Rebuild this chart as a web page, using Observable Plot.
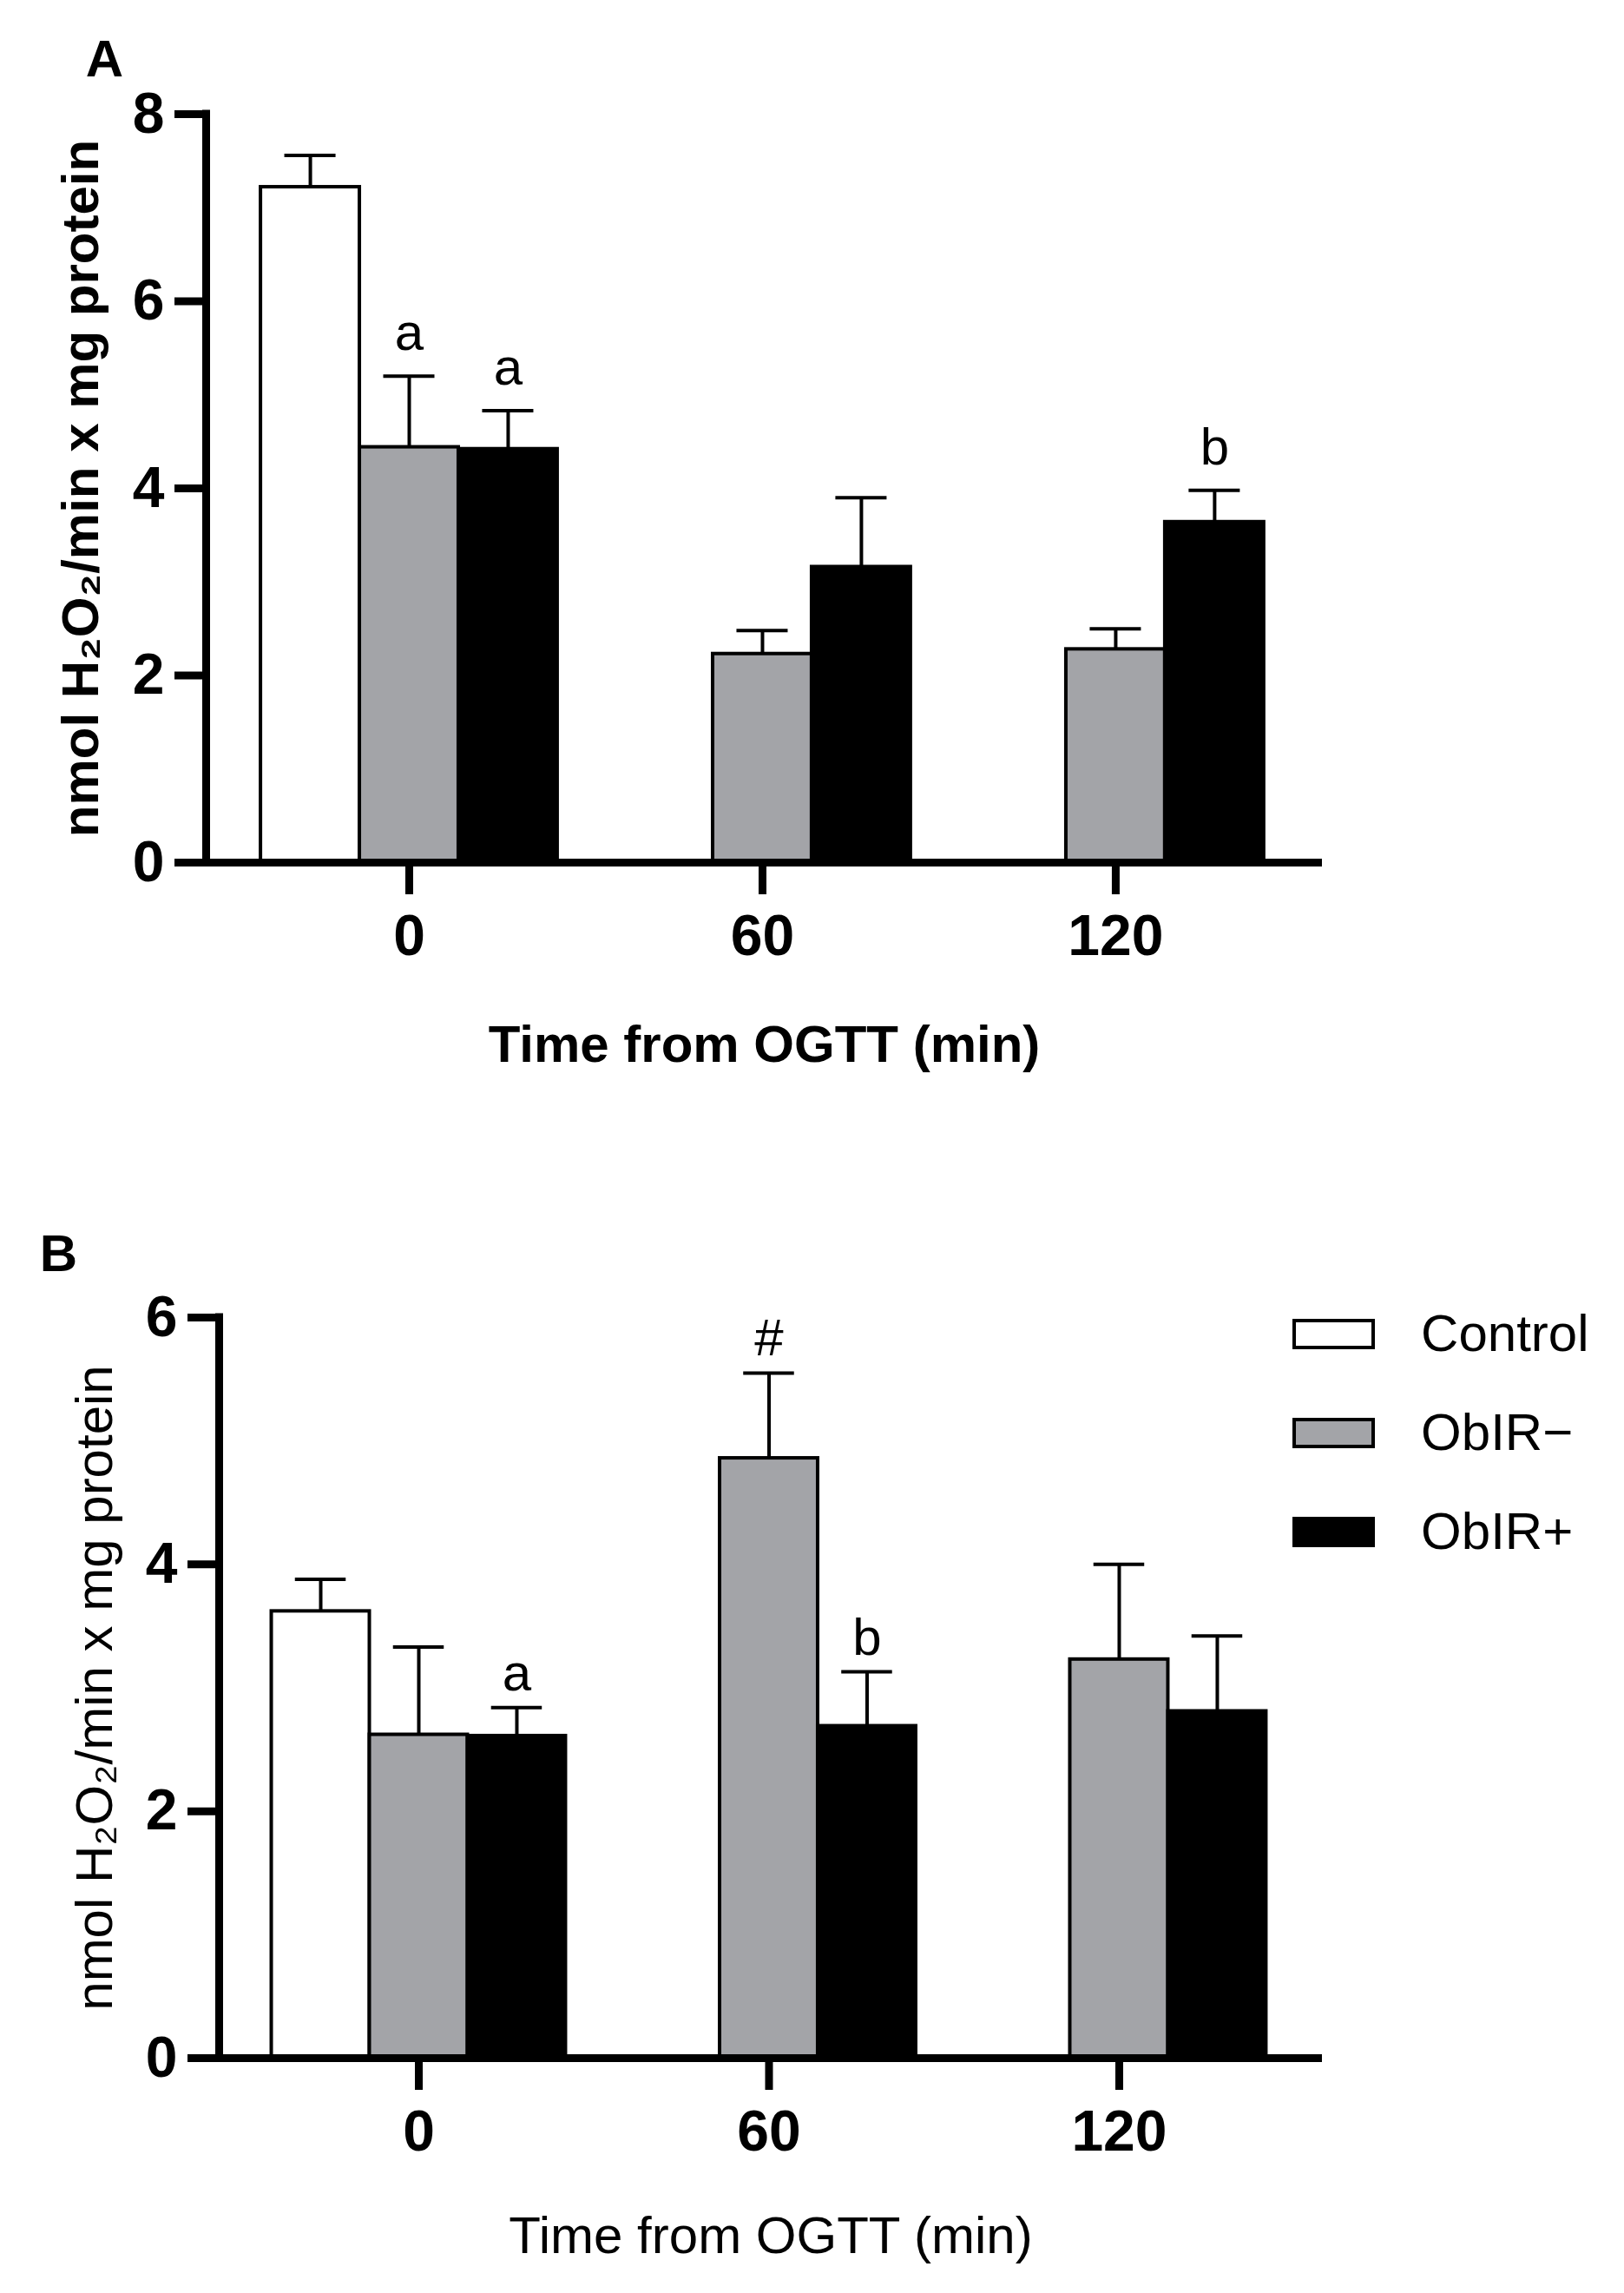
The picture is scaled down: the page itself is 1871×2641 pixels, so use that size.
<!DOCTYPE html>
<html>
<head>
<meta charset="utf-8">
<script src="https://cdn.jsdelivr.net/npm/d3@7"></script>
<script src="https://cdn.jsdelivr.net/npm/@observablehq/plot@0.6"></script>
<style>
  html, body { margin: 0; padding: 0; background: #fff; }
  #page { position: relative; width: 1871px; height: 2641px; background: #fff; overflow: hidden; }
  #page > div, #page > svg { position: absolute; }
</style>
</head>
<body>
<div id="page"></div>
<script>
// ---------- data ----------
const times = ["0", "60", "120"];
const groups = ["Control", "ObIR\u2212", "ObIR+"];
const groupFills = ["#ffffff", "#a3a4a8", "#000000"];

// Panel A (mean, mean+SEM) per time
const aControlMean   = [7.22, null, null];
const aControlUpper  = [7.56, null, null];
const aMinusMean     = [4.44, 2.23, 2.28];
const aMinusUpper    = [5.20, 2.48, 2.50];
const aPlusMean      = [4.42, 3.16, 3.64];
const aPlusUpper     = [4.83, 3.90, 3.98];
const aYTicks = [0, 2, 4, 6, 8];
const aLetters = [
  {time: "0", group: "ObIR\u2212", label: "a"},
  {time: "0", group: "ObIR+", label: "a"},
  {time: "120", group: "ObIR+", label: "b"}
];

// Panel B
const bControlMean   = [3.62, null, null];
const bControlUpper  = [3.88, null, null];
const bMinusMean     = [2.62, 4.86, 3.23];
const bMinusUpper    = [3.33, 5.55, 4.00];
const bPlusMean      = [2.61, 2.69, 2.81];
const bPlusUpper     = [2.84, 3.13, 3.42];
const bYTicks = [0, 2, 4, 6];
const bLetters = [
  {time: "0", group: "ObIR+", label: "a"},
  {time: "60", group: "ObIR\u2212", label: "#"},
  {time: "60", group: "ObIR+", label: "b"}
];

const yTitle = "nmol H\u2082O\u2082/min x mg protein";
const xTitle = "Time from OGTT (min)";

// ---------- helpers ----------
const FONT = "'Liberation Sans', Arial, Helvetica, sans-serif";
const BW = 0.28;     // bar width in category units
const CAP = 0.145;   // error cap width in category units

function rowsFrom(means, uppers) {
  const rows = [];
  times.forEach((t, ti) => {
    groups.forEach((g, gi) => {
      const m = means[gi][ti];
      if (m == null) return;
      rows.push({time: t, group: g, ti, gi, mean: m, upper: uppers[gi][ti]});
    });
  });
  return rows;
}
const center = d => d.ti + (d.gi - 1) * BW;

function panel(opts) {
  const {rows, letters, yMax, yTicks, xDomain, marginLeft, marginTop, marginBottom, height,
         titleWeight, panelLabel, panelDx, panelDy, yTitleDx, xTitleDy, letterDy} = opts;
  const letterRows = letters.map(l => {
    const r = rows.find(r => r.time === l.time && r.group === l.group);
    return {...r, label: l.label};
  });
  return Plot.plot({
    width: 1871,
    height,
    marginLeft,
    marginRight: 1871 - 1523,
    marginTop,
    marginBottom,
    style: {fontFamily: FONT, color: "#000", background: "transparent", overflow: "visible"},
    x: {type: "linear", domain: xDomain, axis: null},
    y: {domain: [0, yMax], axis: null},
    color: {domain: groups, range: groupFills},
    marks: [
      // bars
      Plot.rect(rows, {
        x1: d => center(d) - BW / 2, x2: d => center(d) + BW / 2,
        y1: () => 0, y2: "mean",
        fill: "group", stroke: "#000", strokeWidth: 4
      }),
      // error stems and caps (upper only)
      Plot.ruleX(rows, {x: center, y1: "mean", y2: "upper", stroke: "#000", strokeWidth: 4}),
      Plot.ruleY(rows, {y: "upper", x1: d => center(d) - CAP / 2, x2: d => center(d) + CAP / 2, stroke: "#000", strokeWidth: 4}),
      // axis lines
      Plot.ruleY([0], {stroke: "#000", strokeWidth: 9}),
      Plot.ruleX([xDomain[0]], {y1: 0, y2: yMax, stroke: "#000", strokeWidth: 9, strokeLinecap: "square"}),
      // axes
      Plot.axisY(yTicks, {
        tickSize: 36, tickPadding: 12, strokeWidth: 9, tickFormat: d => String(d),
        fontSize: 66, fontWeight: "bold", label: null
      }),
      Plot.axisX([0, 1, 2], {
        tickFormat: i => times[i], tickSize: 37, tickPadding: 23, strokeWidth: 9,
        fontSize: 66, fontWeight: "bold", label: null
      }),
      // significance letters
      Plot.text(letterRows, {
        x: center, y: "upper", text: "label", lineAnchor: "bottom", dy: letterDy,
        fontSize: 60, fontWeight: "normal", fill: "#000"
      }),
      // axis titles
      Plot.text([yTitle], {
        frameAnchor: "left", rotate: -90, dx: yTitleDx, text: d => d,
        textAnchor: "middle", lineAnchor: "middle",
        fontSize: 60, fontWeight: titleWeight, fill: "#000"
      }),
      Plot.text([xTitle], {
        frameAnchor: "bottom", dy: xTitleDy, text: d => d,
        textAnchor: "middle", lineAnchor: "middle",
        fontSize: 60, fontWeight: titleWeight, fill: "#000"
      }),
      // panel label
      Plot.text([panelLabel], {
        frameAnchor: "top-left", dx: panelDx, dy: panelDy, text: d => d,
        textAnchor: "middle", lineAnchor: "middle",
        fontSize: 60, fontWeight: "bold", fill: "#000"
      })
    ]
  });
}

const page = document.getElementById("page");

// Panel A
const rowsA = rowsFrom([aControlMean, aMinusMean, aPlusMean], [aControlUpper, aMinusUpper, aPlusUpper]);
const svgA = panel({
  rows: rowsA, letters: aLetters, yMax: 8, yTicks: aYTicks, xDomain: [-0.575, 2.585],
  marginLeft: 237, marginTop: 131, marginBottom: 1300 - 993, height: 1300,
  titleWeight: "bold", panelLabel: "A", panelDx: -117, panelDy: -63,
  yTitleDx: -144, xTitleDy: 210, letterDy: -30
});
svgA.style.left = "0px"; svgA.style.top = "0px";
page.appendChild(svgA);

// Panel B
const rowsB = rowsFrom([bControlMean, bMinusMean, bPlusMean], [bControlUpper, bMinusUpper, bPlusUpper]);
const svgB = panel({
  rows: rowsB, letters: bLetters, yMax: 6, yTicks: bYTicks, xDomain: [-0.57, 2.58],
  marginLeft: 252, marginTop: 1517 - 1300, marginBottom: 1341 - (2370 - 1300), height: 1341,
  titleWeight: "normal", panelLabel: "B", panelDx: -185, panelDy: -73,
  yTitleDx: -143, xTitleDy: 205, letterDy: -20
});
svgB.style.left = "0px"; svgB.style.top = "1300px";
page.appendChild(svgB);

// Legend (panel B)
const legend = Plot.plot({
  width: 421,
  height: 360,
  marginLeft: 41, marginRight: 0, marginTop: 0, marginBottom: 0,
  style: {fontFamily: FONT, color: "#000", background: "transparent", overflow: "visible"},
  x: {type: "linear", domain: [0, 1], range: [41, 132], axis: null},
  y: {type: "band", domain: groups, range: [49.5, 310.5], paddingInner: 0.7304, paddingOuter: 0, axis: null},
  color: {domain: groups, range: groupFills},
  marks: [
    Plot.barX(groups, {y: d => d, x1: () => 0, x2: () => 1, fill: d => d, stroke: "#000", strokeWidth: 4}),
    Plot.text(groups, {y: d => d, x: () => 1.6, text: d => d, textAnchor: "start", fontSize: 60, fill: "#000"})
  ]
});
legend.style.left = "1450px"; legend.style.top = "1470px";
page.appendChild(legend);
</script>
</body>
</html>
